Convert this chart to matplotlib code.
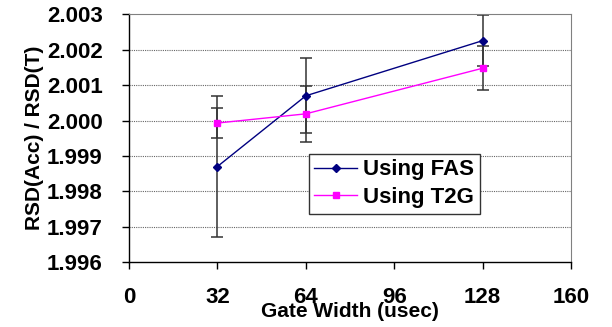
import numpy as np
import matplotlib.pyplot as plt

# gate widths (usec) and ratio measurements with their error bars
gate_width = [32, 64, 128]
fas_ratio = [1.99870, 2.00070, 2.00226]
fas_err = [0.00200, 0.00106, 0.00072]
t2g_ratio = [1.99993, 2.00019, 2.00148]
t2g_err = [0.00043, 0.00080, 0.00062]

xticks = [0, 32, 64, 96, 128, 160]
yticks = [1.996, 1.997, 1.998, 1.999, 2.000, 2.001, 2.002, 2.003]

plt.rcParams['font.family'] = ['Liberation Sans', 'DejaVu Sans']
plt.rcParams['font.weight'] = 'bold'

fig = plt.figure(figsize=(6.12, 3.27), dpi=100)
ax = fig.add_axes([0.2108, 0.1988, 0.7222, 0.7569])

ax.errorbar(gate_width, fas_ratio, yerr=fas_err, fmt='none', ecolor='#333333',
            elinewidth=1.1, capsize=4, capthick=1.1, zorder=2)
ax.errorbar(gate_width, t2g_ratio, yerr=t2g_err, fmt='none', ecolor='#333333',
            elinewidth=1.1, capsize=4, capthick=1.1, zorder=2)
ax.plot(gate_width, fas_ratio, color='#000080', lw=1, marker='D', markersize=4.5,
        label='Using FAS', zorder=3)
ax.plot(gate_width, t2g_ratio, color='#FF00FF', lw=1, marker='s', markersize=5,
        label='Using T2G', zorder=3)

ax.set_xlim(0, 160)
ax.set_ylim(1.996, 2.003)
ax.set_xticks(xticks)
ax.set_yticks(yticks)
ax.set_yticklabels(['%.3f' % v for v in yticks])

for y in yticks[1:-1]:
    ax.axhline(y, color='#666666', lw=0.8, ls=(0, (1, 1)), zorder=1)

for side in ['top', 'right']:
    ax.spines[side].set_color('#808080')
for side in ['left', 'bottom']:
    ax.spines[side].set_color('black')
    ax.spines[side].set_linewidth(1)

ax.tick_params(axis='both', direction='out', length=5, width=1, labelsize=16)
ax.tick_params(axis='y', pad=14)
ax.tick_params(axis='x', pad=13)

ax.set_xlabel('Gate Width (usec)', fontsize=15, fontweight='bold', labelpad=-4)
ax.set_ylabel('RSD(Acc) / RSD(T)', fontsize=15, fontweight='bold', labelpad=2)

leg = ax.legend(loc='upper left', bbox_to_anchor=(0.407, 0.437),
                prop={'size': 16, 'weight': 'bold'},
                frameon=True, fancybox=False, edgecolor='#333333', framealpha=1,
                borderpad=0.25, handlelength=1.9, handletextpad=0.3,
                labelspacing=0.3, borderaxespad=0)
leg.get_frame().set_linewidth(1)
for t in leg.get_texts():
    t.set_fontweight('bold')

fig.savefig('out.png', dpi=100)
